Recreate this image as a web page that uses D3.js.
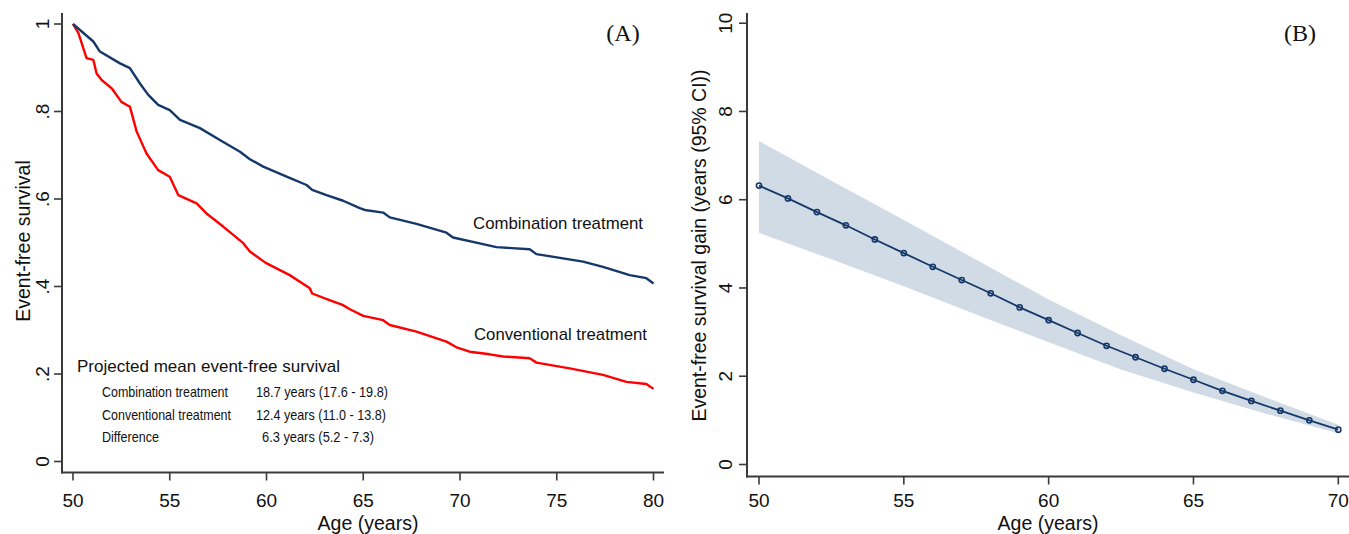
<!DOCTYPE html>
<html>
<head>
<meta charset="utf-8">
<script src="https://cdn.jsdelivr.net/npm/d3@7"></script>
<style>
  html, body { margin: 0; padding: 0; background: #fff; }
  svg { display: block; }
  text { font-family: "Liberation Sans", Arial, sans-serif; fill: #111; }
</style>
</head>
<body>
<svg id="chart" width="1349" height="534"></svg>
<script>
// ---------- Panel A data (Kaplan-Meier style curves) ----------
const combAges = [50, 51.05, 51.39, 52.43, 52.94, 53.46, 53.89, 54.4, 55.0, 55.53, 56.56, 57.59, 58.63, 59.14, 59.83, 61.04, 62.07, 62.36, 63.1, 63.96, 64.82, 65.08, 66.03, 66.37, 67.75, 69.3, 69.64, 71.19, 71.88, 73.6, 73.95, 76.36, 77.39, 78.77, 79.63, 80.0];
const combSurv = [1.000, 0.960, 0.937, 0.910, 0.899, 0.864, 0.838, 0.815, 0.803, 0.781, 0.762, 0.735, 0.708, 0.691, 0.674, 0.651, 0.632, 0.621, 0.609, 0.596, 0.579, 0.575, 0.569, 0.558, 0.543, 0.523, 0.512, 0.497, 0.490, 0.485, 0.474, 0.457, 0.445, 0.426, 0.419, 0.407];

const convAges = [50, 50.28, 50.7, 51.05, 51.22, 51.48, 52.0, 52.5, 52.94, 53.29, 53.8, 54.4, 55.0, 55.44, 56.39, 56.9, 57.76, 58.8, 59.14, 59.96, 61.2, 62.24, 62.36, 63.25, 63.93, 64.31, 65.0, 66.03, 66.37, 67.75, 69.3, 69.82, 70.5, 71.54, 72.23, 73.6, 73.95, 75.67, 77.39, 78.6, 79.63, 80.0];
const convSurv = [1.000, 0.979, 0.922, 0.918, 0.887, 0.872, 0.853, 0.822, 0.811, 0.754, 0.704, 0.666, 0.651, 0.609, 0.590, 0.567, 0.537, 0.499, 0.480, 0.454, 0.426, 0.396, 0.384, 0.369, 0.358, 0.348, 0.333, 0.323, 0.312, 0.297, 0.274, 0.261, 0.251, 0.245, 0.240, 0.236, 0.226, 0.213, 0.198, 0.182, 0.177, 0.166];

const aXTicks = [50, 55, 60, 65, 70, 75, 80];
const aYTicks = [0, 0.2, 0.4, 0.6, 0.8, 1];
const aYTickLabels = ["0", ".2", ".4", ".6", ".8", "1"];

const curveLabels = ["Combination treatment", "Conventional treatment"];
const boxTitle = "Projected mean event-free survival";
const boxRowNames = ["Combination treatment", "Conventional treatment", "Difference"];
const boxRowValues = ["18.7 years (17.6 - 19.8)", "12.4 years (11.0 - 13.8)", "6.3 years (5.2 - 7.3)"];

// ---------- Panel B data ----------
const gainAges = [50, 51, 52, 53, 54, 55, 56, 57, 58, 59, 60, 61, 62, 63, 64, 65, 66, 67, 68, 69, 70];
const gainValues = [6.32, 6.03, 5.72, 5.42, 5.10, 4.79, 4.48, 4.18, 3.88, 3.56, 3.27, 2.98, 2.69, 2.43, 2.17, 1.92, 1.67, 1.44, 1.22, 1.00, 0.79];
const ciAges = [50, 52.5, 55, 57.5, 60, 62.5, 65, 67.5, 70];
const ciUpper = [7.33, 6.43, 5.54, 4.64, 3.74, 2.93, 2.16, 1.52, 0.90];
const ciLower = [5.25, 4.65, 4.04, 3.40, 2.77, 2.15, 1.63, 1.15, 0.71];

const bXTicks = [50, 55, 60, 65, 70];
const bYTicks = [0, 2, 4, 6, 8, 10];

// ---------- Drawing ----------
const svg = d3.select("#chart");
svg.append("rect").attr("width", 1349).attr("height", 534).attr("fill", "#fff");

const axisColor = "#3a3a3a";
const navy = "#15386a";
const tickFont = 19;

function drawAxes(g, o) {
  g.append("line").attr("x1", o.axisX).attr("x2", o.axisX).attr("y1", o.top).attr("y2", o.axisY + 1)
    .attr("stroke", axisColor).attr("stroke-width", 2);
  g.append("line").attr("x1", o.axisX - 1).attr("x2", o.right).attr("y1", o.axisY).attr("y2", o.axisY)
    .attr("stroke", axisColor).attr("stroke-width", 2);
  o.yTicks.forEach((t, i) => {
    const y = o.y(t);
    g.append("line").attr("x1", o.axisX - 8).attr("x2", o.axisX).attr("y1", y).attr("y2", y)
      .attr("stroke", axisColor).attr("stroke-width", 1.6);
    g.append("text").attr("transform", `translate(${o.yLabX},${y}) rotate(-90)`)
      .attr("text-anchor", "middle").attr("dy", "0.36em")
      .style("font-size", tickFont + "px").text(o.yLabels[i]);
  });
  o.xTicks.forEach(t => {
    const x = o.x(t);
    g.append("line").attr("x1", x).attr("x2", x).attr("y1", o.axisY).attr("y2", o.axisY + 8)
      .attr("stroke", axisColor).attr("stroke-width", 1.6);
    g.append("text").attr("x", x).attr("y", 507).attr("text-anchor", "middle")
      .style("font-size", tickFont + "px").text(t);
  });
  g.append("text").attr("x", o.xTitleX).attr("y", 530).attr("text-anchor", "middle")
    .style("font-size", "19.5px").text("Age (years)");
  g.append("text").attr("transform", `translate(${o.yTitleX},${o.yTitleY}) rotate(-90)`)
    .attr("text-anchor", "middle").style("font-size", "19.5px").text(o.yTitle);
}

// ----- Panel A -----
const xA = d3.scaleLinear().domain([50, 80]).range([73, 653.5]);
const yA = d3.scaleLinear().domain([0, 1]).range([461.5, 24]);
const gA = svg.append("g");

drawAxes(gA, {
  axisX: 62, axisY: 472.5, top: 13, right: 664,
  x: xA, y: yA, xTicks: aXTicks, yTicks: aYTicks, yLabels: aYTickLabels,
  yLabX: 42, xTitleX: 368, yTitleX: 30, yTitleY: 241, yTitle: "Event-free survival"
});

const lineA = d3.line().x(d => xA(d[0])).y(d => yA(d[1])).curve(d3.curveLinear);
gA.append("path").datum(convAges.map((a, i) => [a, convSurv[i]]))
  .attr("d", lineA).attr("fill", "none").attr("stroke", "#ff0000").attr("stroke-width", 2.4)
  .attr("stroke-linejoin", "round");
gA.append("path").datum(combAges.map((a, i) => [a, combSurv[i]]))
  .attr("d", lineA).attr("fill", "none").attr("stroke", navy).attr("stroke-width", 2.4)
  .attr("stroke-linejoin", "round");

gA.append("text").attr("x", 473).attr("y", 229).style("font-size", "17px")
  .attr("textLength", 170).attr("lengthAdjust", "spacingAndGlyphs").text(curveLabels[0]);
gA.append("text").attr("x", 474).attr("y", 340).style("font-size", "17px")
  .attr("textLength", 173).attr("lengthAdjust", "spacingAndGlyphs").text(curveLabels[1]);

gA.append("text").attr("x", 77).attr("y", 372).style("font-size", "16.5px")
  .attr("textLength", 263).attr("lengthAdjust", "spacingAndGlyphs").text(boxTitle);
const rowY = [397, 419.5, 442];
const nameW = [126, 129, 57];
const valX = [256, 256, 262];
const valW = [132, 130, 112];
boxRowNames.forEach((n, i) => {
  gA.append("text").attr("x", 102).attr("y", rowY[i]).style("font-size", "14.5px")
    .attr("textLength", nameW[i]).attr("lengthAdjust", "spacingAndGlyphs").text(n);
  gA.append("text").attr("x", valX[i]).attr("y", rowY[i]).style("font-size", "14.5px")
    .attr("textLength", valW[i]).attr("lengthAdjust", "spacingAndGlyphs").text(boxRowValues[i]);
});

gA.append("text").attr("x", 623).attr("y", 41).attr("text-anchor", "middle")
  .style("font-family", "'Liberation Serif', 'Times New Roman', serif").style("font-size", "24px").text("(A)");

// ----- Panel B -----
const xB = d3.scaleLinear().domain([50, 70]).range([759, 1338.3]);
const yB = d3.scaleLinear().domain([0, 10]).range([464.5, 23.2]);
const gB = svg.append("g");

const area = d3.area().x(d => xB(d.a)).y0(d => yB(d.lo)).y1(d => yB(d.hi));
gB.append("path").datum(ciAges.map((a, i) => ({a, lo: ciLower[i], hi: ciUpper[i]})))
  .attr("d", area).attr("fill", "#d1dbe5").attr("stroke", "none");

drawAxes(gB, {
  axisX: 747, axisY: 476.5, top: 13, right: 1349,
  x: xB, y: yB, xTicks: bXTicks, yTicks: bYTicks, yLabels: bYTicks.map(String),
  yLabX: 725, xTitleX: 1048, yTitleX: 706, yTitleY: 245.5, yTitle: "Event-free survival gain (years (95% CI))"
});

const gainPts = gainAges.map((a, i) => [a, gainValues[i]]);
gB.append("path").datum(gainPts)
  .attr("d", d3.line().x(d => xB(d[0])).y(d => yB(d[1])))
  .attr("fill", "none").attr("stroke", navy).attr("stroke-width", 1.8);
gB.selectAll("circle.pt").data(gainPts).enter().append("circle")
  .attr("class", "pt").attr("cx", d => xB(d[0])).attr("cy", d => yB(d[1])).attr("r", 2.6)
  .attr("fill", "none").attr("stroke", navy).attr("stroke-width", 1.6);

gB.append("text").attr("x", 1300).attr("y", 41).attr("text-anchor", "middle")
  .style("font-family", "'Liberation Serif', 'Times New Roman', serif").style("font-size", "24px").text("(B)");
</script>
</body>
</html>
